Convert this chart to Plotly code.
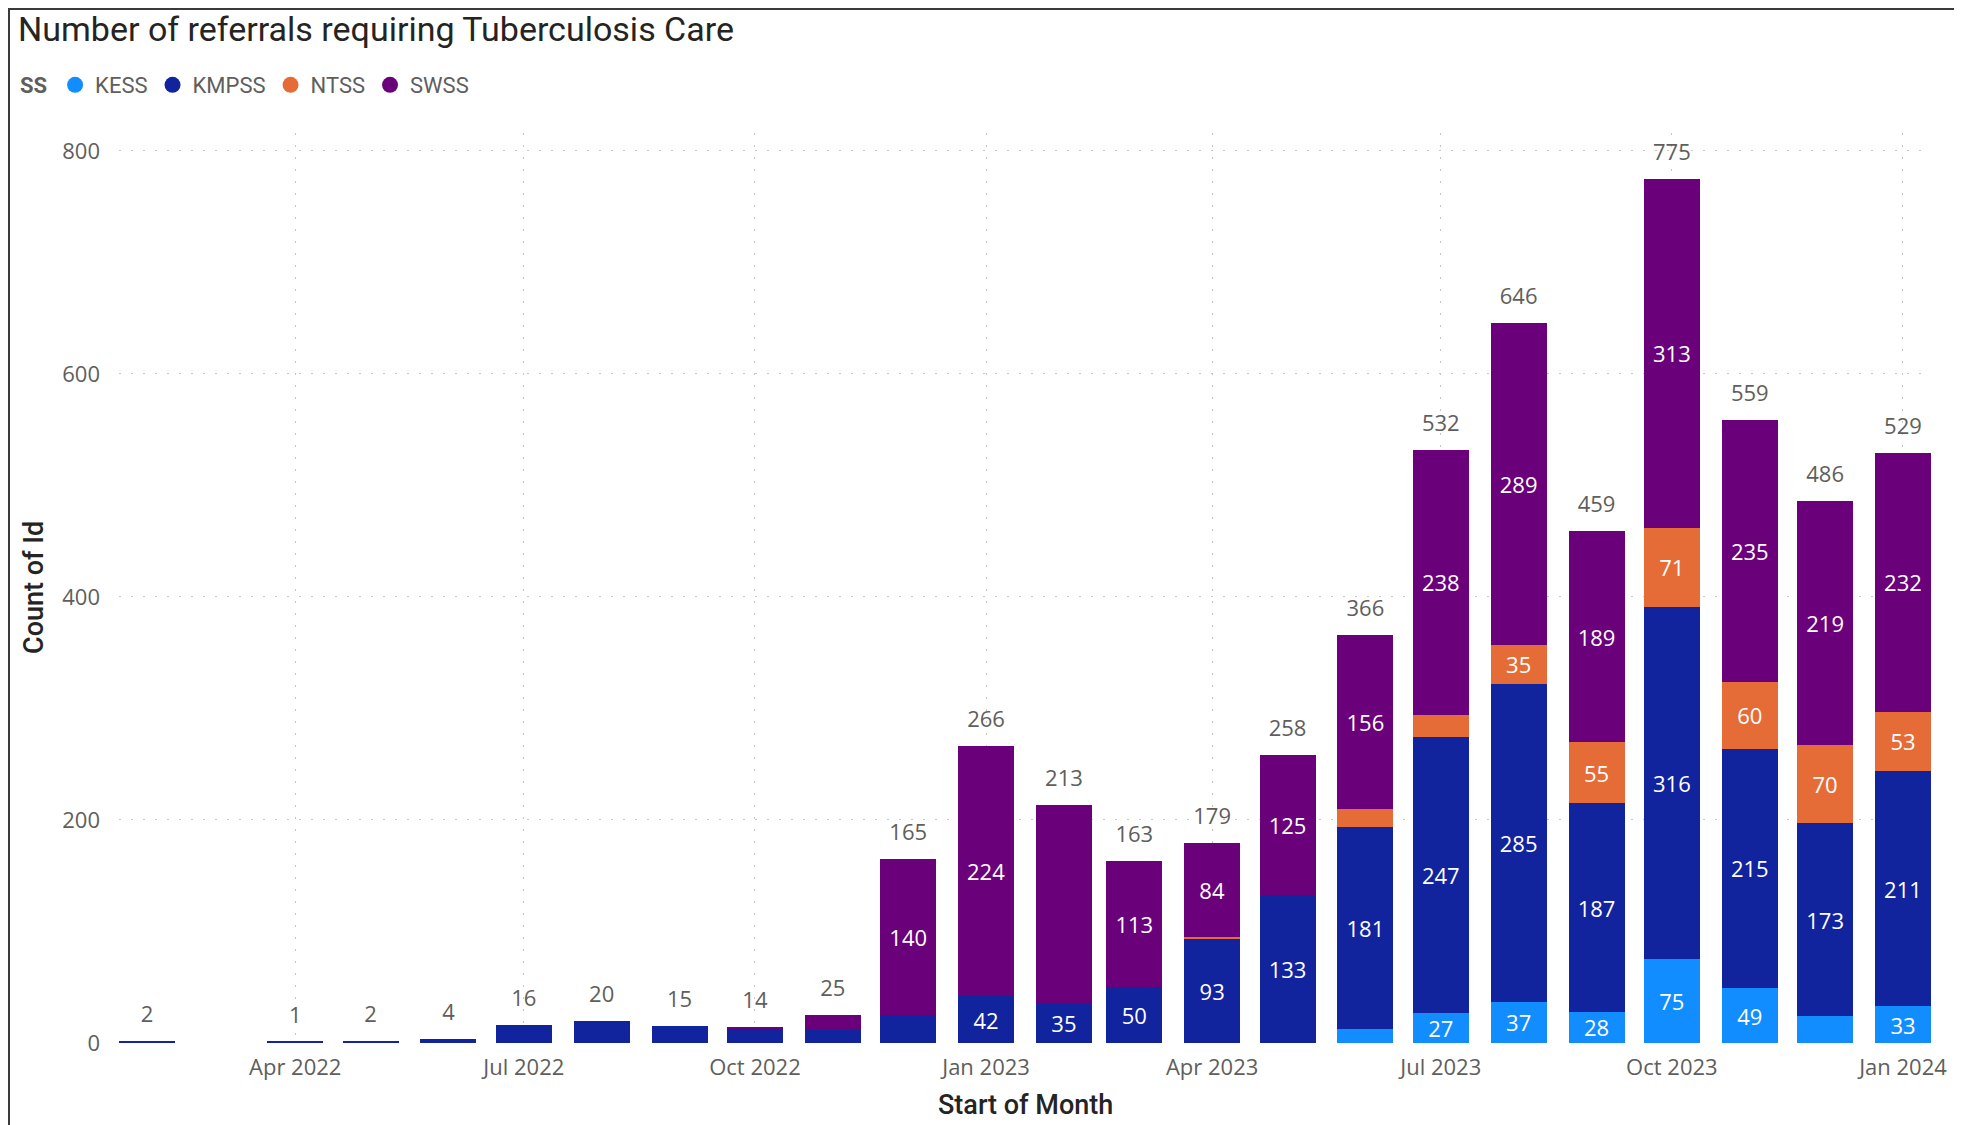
import plotly.graph_objects as go
import pandas as pd

# ---------------- data ----------------
months = ["2022-02-01", "2022-03-01", "2022-04-01", "2022-05-01", "2022-06-01", "2022-07-01",
          "2022-08-01", "2022-09-01", "2022-10-01", "2022-11-01", "2022-12-01", "2023-01-01",
          "2023-02-01", "2023-03-01", "2023-04-01", "2023-05-01", "2023-06-01", "2023-07-01",
          "2023-08-01", "2023-09-01", "2023-10-01", "2023-11-01", "2023-12-01", "2024-01-01"]

kess  = [0, 0, 0, 0, 0, 0, 0, 0, 0, 0, 0, 0, 0, 0, 0, 0, 13, 27, 37, 28, 75, 49, 24, 33]
kmpss = [2, 0, 1, 2, 4, 16, 20, 15, 13, 13, 25, 42, 35, 50, 93, 133, 181, 247, 285, 187, 316, 215, 173, 211]
ntss  = [0, 0, 0, 0, 0, 0, 0, 0, 0, 0, 0, 0, 0, 0, 2, 0, 16, 20, 35, 55, 71, 60, 70, 53]
swss  = [0, 0, 0, 0, 0, 0, 0, 0, 1, 12, 140, 224, 178, 113, 84, 125, 156, 238, 289, 189, 313, 235, 219, 232]

series_names = ["KESS", "KMPSS", "NTSS", "SWSS"]
series_values = [kess, kmpss, ntss, swss]
series_colors = ["#118DFF", "#12239E", "#E66C37", "#6B007B"]

# labels hidden by the original chart despite fitting
hidden_labels = [("SWSS", "2023-02-01")]
label_min = 27

tick_vals = ["2022-04-01", "2022-07-01", "2022-10-01", "2023-01-01", "2023-04-01",
             "2023-07-01", "2023-10-01", "2024-01-01"]
tick_text = ["Apr 2022", "Jul 2022", "Oct 2022", "Jan 2023", "Apr 2023",
             "Jul 2023", "Oct 2023", "Jan 2024"]

# ---------------- styling ----------------
OFF = 8  # default page body margin
W, H = 1962 - OFF, 1125 - OFF
L, R, T, B = 119 - OFF, 31, 133 - OFF, 82
PH = H - T - B
PW = W - L - R
BAR_DAYS = 22.3
LABEL_FONT = "Open Sans"
TITLE_FONT = "Roboto"
GREY = "#605E5C"
DARK = "#252423"

fig = go.Figure()
bar_width = BAR_DAYS * 24 * 3600 * 1000

for name, vals, color in zip(series_names, series_values, series_colors):
    texts = []
    for m, v in zip(months, vals):
        if v >= label_min and (name, m) not in hidden_labels:
            texts.append(str(v))
        else:
            texts.append("")
    fig.add_trace(go.Bar(
        x=months, y=vals, name=name, width=[bar_width] * len(months),
        marker=dict(color=color, line=dict(width=0)),
        text=texts, textposition="inside", insidetextanchor="middle",
        textangle=0,
        textfont=dict(color="white", size=22, family=LABEL_FONT),
        showlegend=False, hoverinfo="skip",
    ))
    # legend entry with circular marker
    fig.add_trace(go.Scatter(
        x=[None], y=[None], mode="markers", name=name,
        marker=dict(color=color, size=17, symbol="circle"),
        showlegend=True,
    ))

totals = [a + b + c + d for a, b, c, d in zip(kess, kmpss, ntss, swss)]
tot_x = [m for m, t in zip(months, totals) if t > 0]
tot_y = [t for t in totals if t > 0]
fig.add_trace(go.Scatter(
    x=tot_x, y=tot_y, mode="markers+text", text=[str(t) for t in tot_y],
    textposition="top center",
    marker=dict(size=20, color="rgba(0,0,0,0)"),
    textfont=dict(color=GREY, size=22, family=LABEL_FONT),
    showlegend=False, hoverinfo="skip", cliponaxis=False,
))

x_start = pd.Timestamp(months[0]) - pd.Timedelta(days=BAR_DAYS / 2)
x_end = pd.Timestamp(months[-1]) + pd.Timedelta(days=BAR_DAYS / 2)

fig.update_layout(
    width=W, height=H,
    margin=dict(l=L, r=R, t=T, b=B, autoexpand=False),
    barmode="stack",
    paper_bgcolor="#EFEFEF",
    plot_bgcolor="rgba(0,0,0,0)",
    uniformtext=dict(minsize=22, mode="show"),
    font=dict(family=LABEL_FONT, color=GREY),
    title=dict(text="Number of referrals requiring Tuberculosis Care",
               x=10 / W, xref="container", xanchor="left",
               y=1 - 21 / H, yref="container", yanchor="middle",
               font=dict(family=TITLE_FONT, size=34, color=DARK)),
    legend=dict(orientation="h", xref="container", yref="container",
                x=10 / W, xanchor="left", y=1 - 77 / H, yanchor="middle",
                traceorder="normal",
                title=dict(text="<b>SS</b>", font=dict(size=22, color=GREY, family=TITLE_FONT)),
                font=dict(size=22, color=GREY, family=TITLE_FONT),
                itemwidth=30, bgcolor="rgba(0,0,0,0)", tracegroupgap=0),
    xaxis=dict(type="date", range=[x_start, x_end],
               tickvals=tick_vals, ticktext=tick_text,
               tickfont=dict(size=22, color=GREY, family=LABEL_FONT),
               showgrid=True, gridcolor="#C8C6C4", gridwidth=1, griddash="2px,10px",
               zeroline=False, showline=False, ticks="", ticklabelstandoff=9),
    yaxis=dict(range=[0, 816], tickvals=[0, 200, 400, 600, 800],
               tickfont=dict(size=22, color=GREY, family=LABEL_FONT),
               showgrid=True, gridcolor="#C8C6C4", gridwidth=1, griddash="2px,10px",
               zeroline=False, showline=False, ticks="", ticklabelstandoff=18),
    annotations=[
        dict(text="Start of Month", xref="paper", yref="paper",
             x=0.5, y=-62 / PH, xanchor="center", yanchor="middle",
             showarrow=False, font=dict(family=TITLE_FONT, size=27, color=DARK, weight=500)),
        dict(text="Count of Id", xref="paper", yref="paper",
             x=-(119 - 34) / PW, y=0.5, xanchor="center", yanchor="middle",
             textangle=-90, showarrow=False, font=dict(family=TITLE_FONT, size=27, color=DARK, weight=500)),
    ],
    shapes=[
        dict(type="rect", xref="paper", yref="paper", layer="below",
             x0=-(L - 1) / PW, x1=(1951 - L) / PW,
             y0=-(B + 20) / PH, y1=(PH + T - 1) / PH,
             fillcolor="white", line=dict(color="#3A3A3A", width=2)),
    ],
)

fig.write_html("out.html")
